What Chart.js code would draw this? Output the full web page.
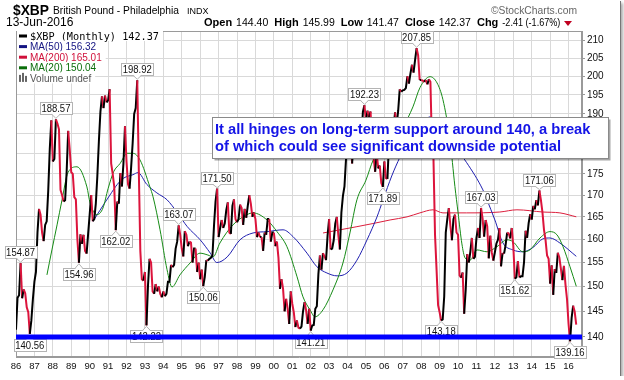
<!DOCTYPE html>
<html lang="en">
<head>
<meta charset="UTF-8">
<title>$XBP British Pound - Philadelphia INDX</title>
<script src="https://cdn.jsdelivr.net/npm/chart.js"></script>
<style>
  html, body { margin: 0; padding: 0; background: #fff; }
  #wrap { position: relative; width: 620px; height: 376px; box-shadow: 1px 1px 0 #777, 3px 3px 3px #aaa; }
  canvas { display: block; }
</style>
</head>
<body>
<div id="wrap"><canvas id="myChart" width="620" height="376"></canvas></div>
<script>
// ---- data (monthly closes, Jan 1986 .. Jun 2016) ----
const startYear = 1986;
const closes = [
  141.4, 147.7, 148.2, 154.87, 147.6, 149.4, 148.6, 145.8, 144.8, 140.56, 143.2, 147.4,   // 1986
  151.0, 153.0, 161.5, 166.8, 165.5, 161.5, 159.6, 163.2, 164.0, 171.0, 181.0, 188.3,     // 1987
  178.0, 178.6, 188.57, 187.5, 186.0, 171.2, 170.0, 168.5, 168.8, 175.5, 185.6, 180.9,    // 1988
  175.4, 175.0, 169.5, 169.0, 160.0, 154.96, 161.1, 159.0, 161.0, 157.5, 156.9, 161.2,    // 1989
  165.5, 170.0, 164.0, 164.5, 168.0, 174.5, 183.0, 190.5, 194.6, 191.5, 194.8, 193.0,     // 1990
  193.5, 196.5, 177.5, 175.0, 172.0, 162.02, 168.5, 168.0, 175.2, 172.0, 177.5, 186.8,    // 1991
  178.0, 172.5, 171.5, 176.5, 182.5, 190.0, 191.5, 198.92, 176.0, 157.5, 151.5, 151.2,    // 1992
  153.0, 142.22, 150.2, 155.8, 155.0, 149.0, 148.5, 150.5, 149.0, 150.0, 148.5, 147.8,    // 1993
  149.0, 148.0, 148.5, 151.0, 151.0, 154.5, 154.0, 154.5, 158.0, 159.5, 163.07, 161.0,    // 1994
  158.0, 156.3, 161.8, 161.0, 158.5, 159.5, 159.3, 155.0, 158.0, 158.0, 153.0, 155.0,     // 1995
  151.5, 153.5, 150.06, 152.0, 155.5, 155.4, 155.8, 156.0, 156.5, 163.0, 168.5, 171.5,    // 1996
  160.5, 162.5, 164.3, 162.5, 163.5, 166.5, 168.3, 161.5, 161.2, 167.5, 169.0, 164.5,     // 1997
  163.8, 164.5, 167.8, 167.0, 163.2, 166.8, 164.8, 167.5, 170.0, 168.0, 165.0, 166.0,     // 1998
  164.5, 160.5, 161.5, 160.5, 160.5, 157.5, 161.5, 161.0, 164.5, 164.5, 159.5, 161.5,     // 1999
  161.5, 158.5, 159.5, 156.0, 149.5, 151.5, 149.5, 145.0, 147.5, 145.5, 142.5, 149.0,     // 2000
  146.5, 144.8, 141.9, 143.2, 141.8, 141.6, 142.0, 145.0, 146.8, 145.2, 142.5, 145.5,     // 2001
  141.21, 142.2, 142.3, 145.5, 146.0, 152.5, 156.5, 153.5, 157.0, 156.3, 155.5, 160.8,   // 2002
  164.5, 157.8, 158.0, 159.8, 163.5, 165.0, 161.0, 157.8, 166.0, 169.8, 172.0, 178.5,     // 2003
  182.5, 186.5, 184.0, 177.5, 183.5, 181.8, 182.0, 180.0, 180.5, 183.5, 190.5, 192.23,    // 2004
  188.0, 190.8, 189.0, 190.6, 182.0, 179.0, 175.5, 180.0, 176.3, 177.0, 172.8, 171.89,    // 2005
  178.0, 174.0, 173.8, 182.5, 187.0, 184.8, 186.8, 190.4, 187.2, 190.8, 196.5, 195.8,     // 2006
  196.2, 196.3, 196.8, 200.0, 198.0, 200.8, 203.2, 201.0, 204.5, 207.85, 205.8, 199.0,    // 2007
  199.0, 198.8, 198.5, 199.0, 197.8, 199.2, 198.5, 182.0, 178.5, 161.0, 153.5, 146.2,     // 2008
  144.8, 143.18, 143.4, 148.0, 161.5, 164.5, 167.0, 163.0, 159.8, 164.5, 165.5, 161.5,    // 2009
  161.0, 152.3, 151.8, 152.9, 144.5, 149.4, 156.8, 155.0, 157.3, 160.3, 155.8, 156.2,     // 2010
  160.3, 162.5, 160.3, 167.03, 164.6, 160.6, 164.3, 162.9, 155.9, 160.8, 157.1, 155.4,    // 2011
  157.2, 159.1, 159.9, 162.5, 154.2, 157.0, 156.9, 158.8, 161.5, 161.3, 160.2, 162.5,     // 2012
  158.6, 151.62, 151.9, 155.3, 151.9, 152.1, 152.1, 155.1, 161.9, 160.3, 163.6, 165.6,    // 2013
  164.4, 167.5, 166.7, 168.8, 167.6, 171.06, 168.8, 166.0, 162.1, 159.9, 156.5, 155.8,    // 2014
  150.6, 154.4, 148.3, 153.6, 152.8, 157.1, 156.1, 153.7, 151.3, 154.3, 150.4, 147.4,     // 2015
  142.5, 139.16, 143.7, 146.1, 144.9, 142.37                                              // 2016
];

// moving averages: [year, value]
const ma20 = [
  [1987.68,152.4],[1987.95,157.7],[1988.23,163.2],[1988.5,168.9],[1988.82,175.3],[1989.31,176.7],
  [1989.85,171.9],[1990.02,168.2],[1990.4,165.5],[1990.72,167.0],[1991.0,171.5],[1991.3,175.5],
  [1991.65,177.5],[1992.03,180.0],[1992.35,180.0],[1992.73,178.4],[1993.27,171.9],[1993.44,169.6],
  [1993.82,162.1],[1994.2,153.5],[1994.47,149.9],[1994.9,152.4],[1995.45,154.9],[1995.99,157.0],
  [1996.42,156.6],[1996.7,156.2],[1997.07,159.2],[1997.78,163.2],[1998.54,165.5],[1998.87,165.9],
  [1999.63,164.3],[2000.17,161.7],[2000.71,158.4],[2001.26,152.0],[2001.58,147.9],[2001.96,145.3],
  [2002.23,143.9],[2002.67,145.3],[2003.21,149.3],[2003.75,154.9],[2004.13,161.4],[2004.51,168.9],
  [2005.0,173.5],[2005.4,178.4],[2005.95,181.5],[2006.5,183.5],[2007.0,186.5],[2007.55,191.8],
  [2007.93,196.9],[2008.48,199.9],[2008.86,198.2],[2009.18,193.7],[2009.56,183.3],[2009.83,172.0],
  [2010.0,166.0],[2010.21,159.0],[2010.38,156.0],[2010.65,155.5],[2011.03,157.7],[2011.57,157.3],
  [2012.11,158.4],[2012.66,159.9],[2012.98,159.5],[2013.52,157.3],[2013.9,157.7],[2014.45,160.3],
  [2014.99,161.7],[2015.37,161.0],[2015.7,158.4],[2016.08,154.1],[2016.42,150.04]
];
const ma50 = [
  [1990.18,164.0],[1990.56,166.5],[1991.1,170.0],[1991.5,172.5],[1991.85,174.0],[1992.35,174.8],
  [1992.62,175.3],[1993.1,172.5],[1993.65,170.5],[1994.2,168.9],[1994.75,166.0],[1995.3,162.8],
  [1996.0,159.9],[1996.55,157.0],[1996.9,155.0],[1997.47,156.2],[1998.16,159.9],[1998.87,161.4],
  [1999.63,161.7],[2000.5,162.1],[2001.04,160.6],[2001.8,157.0],[2002.34,154.1],[2002.88,152.8],
  [2003.43,152.2],[2003.97,152.8],[2004.51,155.5],[2005.06,159.9],[2005.6,165.0],[2005.93,168.9],
  [2006.4,174.5],[2006.85,179.1],[2007.39,184.1],[2007.93,186.6],[2008.48,189.2],[2009.0,186.5],
  [2009.56,183.3],[2010.47,177.7],[2011.35,171.2],[2011.57,168.9],[2012.0,164.3],[2012.44,159.2],
  [2012.98,157.7],[2013.52,157.3],[2014.06,158.2],[2014.6,160.1],[2014.99,160.3],[2015.53,159.2],
  [2016.42,156.32]
];
const ma200 = [
  [2002.67,161.4],[2003.59,162.1],[2004.51,162.8],[2005.38,163.5],[2006.31,164.3],[2007.23,165.0],
  [2007.93,165.9],[2008.64,166.6],[2009.18,165.9],[2010.47,165.9],[2012.27,166.1],[2013.2,166.6],
  [2014.6,166.1],[2015.53,165.9],[2016.42,165.01]
];

const yTicks = [140, 145, 150, 155, 160, 165, 170, 175, 180, 185, 190, 195, 200, 205, 210];
const xYears = [];
for (let y = 1986; y <= 2016; y++) xYears.push(y);
const supportLevel = 140;

// annotated extremes: [month index, above?]
const tagPoints = [
  [3, true], [9, false], [26, true], [41, false], [65, false], [79, true], [85, false],
  [106, true], [122, false], [131, true], [192, false], [227, true], [239, false],
  [261, true], [277, false], [303, true], [325, false], [341, true], [361, false]
];

const titleText = ['$XBP', 'British Pound - Philadelphia', 'INDX'];
const dateText = '13-Jun-2016';
const quoteFields = [['Open', '144.40'], ['High', '145.99'], ['Low', '141.47'], ['Close', '142.37'], ['Chg', '-2.41 (-1.67%)']];
const legendItems = [
  ['$XBP (Monthly) 142.37', '#000000'],
  ['MA(50) 156.32', '#141482'],
  ['MA(200) 165.01', '#d0103a'],
  ['MA(20) 150.04', '#0a6e0a'],
  ['Volume undef', '#555555']
];
const noteLines = [
  'It all hinges on long-term support around 140, a break',
  'of which could see significant downside potential'
];

// ---- chart ----
const FONT = '"Liberation Sans", Arial, sans-serif';
const xMin = 1986, xMax = 2016.73;
const priceColorUp = '#000000', priceColorDown = '#dc143c';

const pricePts = closes.map((v, i) => ({ x: startYear + i / 12, y: v }));
const toPts = arr => arr.map(p => ({ x: p[0], y: p[1] }));

function txt(ctx, s, x, y, font, color, maxW, align) {
  ctx.font = font;
  ctx.fillStyle = color;
  ctx.textAlign = align || 'left';
  ctx.textBaseline = 'alphabetic';
  if (maxW) ctx.fillText(s, x, y, maxW); else ctx.fillText(s, x, y);
  return ctx.measureText(s).width;
}

function drawTag(ctx, x, y, s, above) {
  const w = 32, h = 12, tail = 5;
  const bx = Math.round(x - w / 2) + 0.5;
  const by = above ? Math.round(y - tail - h) + 0.5 : Math.round(y + tail) + 0.5;
  ctx.lineWidth = 1;
  ctx.strokeStyle = '#b4b4b4';
  ctx.fillStyle = '#fff';
  ctx.fillRect(bx, by, w, h);
  ctx.strokeRect(bx, by, w, h);
  ctx.beginPath();
  if (above) { ctx.moveTo(x - 4, by + h); ctx.lineTo(x, y - 1); ctx.lineTo(x + 4, by + h); }
  else { ctx.moveTo(x - 4, by); ctx.lineTo(x, y + 1); ctx.lineTo(x + 4, by); }
  ctx.fill();
  ctx.stroke();
  ctx.fillRect(x - 3, above ? by + h - 1.5 : by - 0.5, 6, 2);
  ctx.font = '10px ' + FONT;
  ctx.fillStyle = '#111';
  ctx.textAlign = 'center';
  ctx.textBaseline = 'middle';
  ctx.fillText(s, x, by + h / 2 + 0.5, w - 3);
}

const decor = {
  id: 'decor',
  beforeDatasetsDraw(chart) {
    const { ctx, chartArea: a } = chart;
    ctx.save();
    ctx.strokeStyle = '#9a9a9a';
    ctx.lineWidth = 1;
    ctx.strokeRect(a.left + 0.5, a.top + 0.5, a.right - a.left - 1, a.bottom - a.top - 1);
    ctx.restore();
  },
  beforeDatasetDraw(chart, args) {
    if (args.index !== 0) return;   // tags go under the support band
    const { ctx, scales: { x, y } } = chart;
    ctx.save();
    tagPoints.forEach(([i, above]) => {
      drawTag(ctx, x.getPixelForValue(pricePts[i].x), y.getPixelForValue(closes[i]), closes[i].toFixed(2), above);
    });
    ctx.restore();
  },
  afterDraw(chart) {
    const { ctx, chartArea: a } = chart;
    ctx.save();

    // header
    txt(ctx, titleText[0], 13, 15, 'bold 15px ' + FONT, '#000', 36);
    txt(ctx, titleText[1], 53, 14, '11px ' + FONT, '#000', 126);
    txt(ctx, titleText[2], 187, 14, '9px ' + FONT, '#000', 24);
    txt(ctx, '\u00A9StockCharts.com', 491, 14, '11px ' + FONT, '#666', 86);
    txt(ctx, dateText, 6, 26, '12px ' + FONT, '#000', 68);
    let qx = 204;
    quoteFields.forEach(([k, v], n) => {
      qx += txt(ctx, k, qx, 26, 'bold 11px ' + FONT, '#000') + 4;
      qx += txt(ctx, v, qx, 26, '10.5px ' + FONT, '#000', n === quoteFields.length - 1 ? 58 : 0) + 6;
    });
    ctx.fillStyle = '#c00020';
    ctx.beginPath();
    ctx.moveTo(564, 21); ctx.lineTo(572, 21); ctx.lineTo(568, 26); ctx.closePath();
    ctx.fill();

    // legend
    ctx.letterSpacing = '0px';
    legendItems.forEach(([s, c], n) => {
      const cy = a.top + 4.5 + n * 10.6;
      const font = n === 0 ? '10.5px "DejaVu Sans Mono", monospace' : '10px ' + FONT;
      ctx.font = font;
      const w = n === 0 ? Math.min(ctx.measureText(s).width, 129) : ctx.measureText(s).width;
      ctx.fillStyle = '#fff';
      ctx.fillRect(a.left + 1, cy - 5.5, 14 + w + 3, 11);
      if (n < 4) {
        ctx.fillStyle = c;
        ctx.fillRect(a.left + 3, cy - 1, 8, 3);
      } else {
        ctx.fillStyle = '#666';
        ctx.fillRect(a.left + 3, cy - 3, 2, 7);
        ctx.fillRect(a.left + 6, cy - 5, 2, 9);
        ctx.fillRect(a.left + 9, cy - 2, 2, 6);
      }
      txt(ctx, s, a.left + 14, cy + 4, font, c, n === 0 ? 129 : 0);
    });

    // note box
    const bx = 212.5, by = 117.5, bw = 396, bh = 41;
    ctx.fillStyle = 'rgba(0,0,0,0.35)';
    ctx.fillRect(bx + 2, by + 2, bw, bh);
    ctx.fillStyle = '#fff';
    ctx.fillRect(bx, by, bw, bh);
    ctx.strokeStyle = '#8a8a8a';
    ctx.lineWidth = 1;
    ctx.strokeRect(bx, by, bw, bh);
    txt(ctx, noteLines[0], 215, 134, 'bold 14.7px ' + FONT, '#1414e6', 376);
    txt(ctx, noteLines[1], 215, 151, 'bold 14.7px ' + FONT, '#1414e6', 348);

    ctx.restore();
  }
};

new Chart(document.getElementById('myChart'), {
  type: 'line',
  data: {
    datasets: [
      {
        label: 'Support',
        data: [{ x: xMin, y: supportLevel }, { x: xMax, y: supportLevel }],
        borderColor: '#0000ff', borderWidth: 5, borderCapStyle: 'butt', pointRadius: 0, order: 0
      },
      {
        label: '$XBP',
        data: pricePts,
        borderColor: priceColorUp, borderWidth: 2, pointRadius: 0, order: 1,
        segment: { borderColor: c => (c.p1.parsed.y >= c.p0.parsed.y ? priceColorUp : priceColorDown) }
      },
      { label: 'MA(20)', data: toPts(ma20), borderColor: '#158a15', borderWidth: 1, pointRadius: 0, cubicInterpolationMode: 'monotone', order: 2 },
      { label: 'MA(50)', data: toPts(ma50), borderColor: '#2020b0', borderWidth: 1, pointRadius: 0, cubicInterpolationMode: 'monotone', order: 3 },
      { label: 'MA(200)', data: toPts(ma200), borderColor: '#dc1e3c', borderWidth: 1, pointRadius: 0, cubicInterpolationMode: 'monotone', order: 4 }
    ]
  },
  options: {
    responsive: false,
    animation: false,
    devicePixelRatio: 1,
    layout: { padding: { left: 16, top: 31, right: 0, bottom: 0 } },
    plugins: { legend: { display: false }, tooltip: { enabled: false } },
    scales: {
      x: {
        type: 'linear', min: xMin, max: xMax,
        afterBuildTicks: s => { s.ticks = xYears.map(v => ({ value: v })); },
        afterFit: s => { s.height = 19; },
        ticks: {
          autoSkip: false, maxRotation: 0, padding: 4, color: '#111',
          font: { family: FONT, size: 9.5 },
          callback: v => String(v % 100).padStart(2, '0')
        },
        grid: { color: '#d9d9d9', drawTicks: false },
        border: { display: true, color: '#9a9a9a' }
      },
      y: {
        type: 'logarithmic', position: 'right', min: 136.2, max: 212.8,
        afterBuildTicks: s => { s.ticks = yTicks.map(v => ({ value: v })); },
        afterFit: s => { s.width = 38; },
        ticks: {
          padding: 2, color: '#111',
          font: { family: FONT, size: 10 },
          callback: v => String(v)
        },
        grid: { color: '#d9d9d9', tickLength: 3, tickColor: '#999' },
        border: { display: true, color: '#9a9a9a' }
      }
    }
  },
  plugins: [decor]
});
</script>
</body>
</html>
